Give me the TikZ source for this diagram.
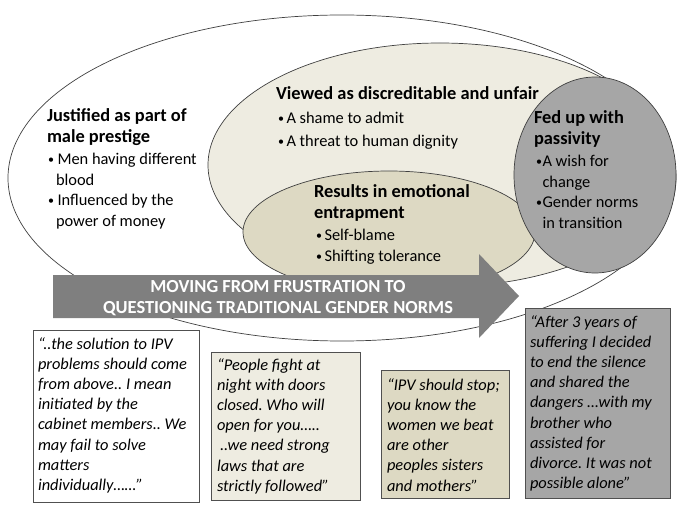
\documentclass[tikz,border=0pt]{standalone}
\usepackage{fontspec}
\setmainfont{Carlito}
\usetikzlibrary{shapes.geometric}
\definecolor{ellline}{HTML}{404040}
\definecolor{beigeA}{HTML}{EEECE1}
\definecolor{beigeB}{HTML}{DDD9C3}
\definecolor{grayC}{HTML}{A6A6A6}
\definecolor{arrowc}{HTML}{7F7F7F}
\definecolor{boxline}{HTML}{505050}
\frenchspacing
\newcommand\mytitle{\fontsize{18.4bp}{21bp}\selectfont\bfseries}
\newcommand\mybody{\fontsize{16.4bp}{20.5bp}\selectfont}
\newcommand\myquote{\fontsize{16.4bp}{20.2bp}\selectfont\itshape}
\newcommand\mybul{\makebox[6.5bp][l]{\raisebox{1.2bp}{\fontsize{12bp}{12bp}\selectfont •}}}
\begin{document}
\begin{tikzpicture}[x=1bp,y=-1bp,
  ell/.style={ellipse, draw=ellline, line width=0.7bp, inner sep=0},
  txt/.style={anchor=base west, inner sep=0, outer sep=0},
  qbox/.style={draw=boxline, line width=0.9bp, anchor=north west, inner sep=0},
  ]
\useasboundingbox (0,0) rectangle (685,518);
% ellipses
\node[ell, fill=white, minimum width=668bp, minimum height=326bp] (outer) at (342,178) {};
\node[ell, fill=beigeA, minimum width=464bp, minimum height=244bp] (viewed) at (440,165) {};
\node[ell, fill=beigeB, minimum width=292bp, minimum height=122bp] (entrap) at (389,232) {};
\node[ell, fill=grayC, minimum width=162bp, minimum height=196bp] (fedup) at (595,175) {};
% arrow
\fill[arrowc] (53,275) -- (479,275) -- (479,254) -- (519,296) -- (479,338) -- (479,318) -- (53,318) -- cycle;
\node[anchor=base, inner sep=0, text=white] (arrtxt) at (278,292)
  {\parbox[t]{420bp}{\centering\mytitle MOVING FROM FRUSTRATION TO\\QUESTIONING TRADITIONAL GENDER NORMS}};
% justified
\node[txt] (jusT) at (47,122) {\parbox[t]{200bp}{\raggedright\mytitle Justified as part of\\male prestige}};
\node[txt] (jusB) at (48,165) {\parbox[t]{200bp}{\raggedright\mybody \mybul\hspace{3bp}Men having different\\\hspace*{8bp}blood\\\mybul\hspace{3bp}Influenced by the\\\hspace*{8bp}power of money}};
% viewed
\node[txt] (viewT) at (276,100) {\mytitle Viewed as discreditable and unfair};
\node[txt] (viewB) at (278,124) {\parbox[t]{250bp}{\raggedright\fontsize{16.4bp}{23bp}\selectfont \mybul\hspace{2bp}A shame to admit\\\mybul\hspace{2bp}A threat to human dignity}};
% entrapment
\node[txt] (entT) at (314,198) {\parbox[t]{200bp}{\raggedright\mytitle Results in emotional\\entrapment}};
\node[txt] (entB) at (316,241) {\parbox[t]{200bp}{\raggedright\mybody \mybul\hspace{2bp}Self-blame\\\mybul\hspace{2bp}Shifting tolerance}};
% fed up
\node[txt] (fedT) at (534,124) {\parbox[t]{140bp}{\raggedright\mytitle Fed up with\\passivity}};
\node[txt] (fedB) at (536,167) {\parbox[t]{140bp}{\raggedright\mybody \mybul A wish for\\\hspace*{6.5bp}change\\\mybul Gender norms\\\hspace*{6.5bp}in transition}};
% quote boxes
\node[qbox, fill=white, minimum width=166bp, minimum height=172bp] (q1) at (33,330) {};
\node[qbox, fill=beigeA, minimum width=149bp, minimum height=148bp] (q2) at (211,352) {};
\node[qbox, fill=beigeB, minimum width=128bp, minimum height=128bp] (q3) at (381,370) {};
\node[qbox, fill=grayC, minimum width=145bp, minimum height=190bp] (q4) at (525,308) {};
\node[txt] (q1t) at (38,349) {\parbox[t]{165bp}{\raggedright\myquote “..the solution to IPV\\problems should come\\from above.. I mean\\initiated by the\\cabinet members.. We\\may fail to solve\\matters\\individually……”}};
\node[txt] (q2t) at (217,370) {\parbox[t]{145bp}{\raggedright\myquote “People fight at\\night with doors\\closed. Who will\\open for you…..\\\hspace*{3bp}..we need strong\\laws that are\\strictly followed”}};
\node[txt] (q3t) at (387,390) {\parbox[t]{125bp}{\raggedright\myquote “IPV should stop;\\you know the\\women we beat\\are other\\peoples sisters\\and mothers”}};
\node[txt] (q4t) at (530,327) {\parbox[t]{145bp}{\raggedright\myquote “After 3 years of\\suffering I decided\\to end the silence\\and shared the\\dangers …with my\\brother who\\assisted for\\divorce. It was not\\possible alone”}};
\end{tikzpicture}
\end{document}
